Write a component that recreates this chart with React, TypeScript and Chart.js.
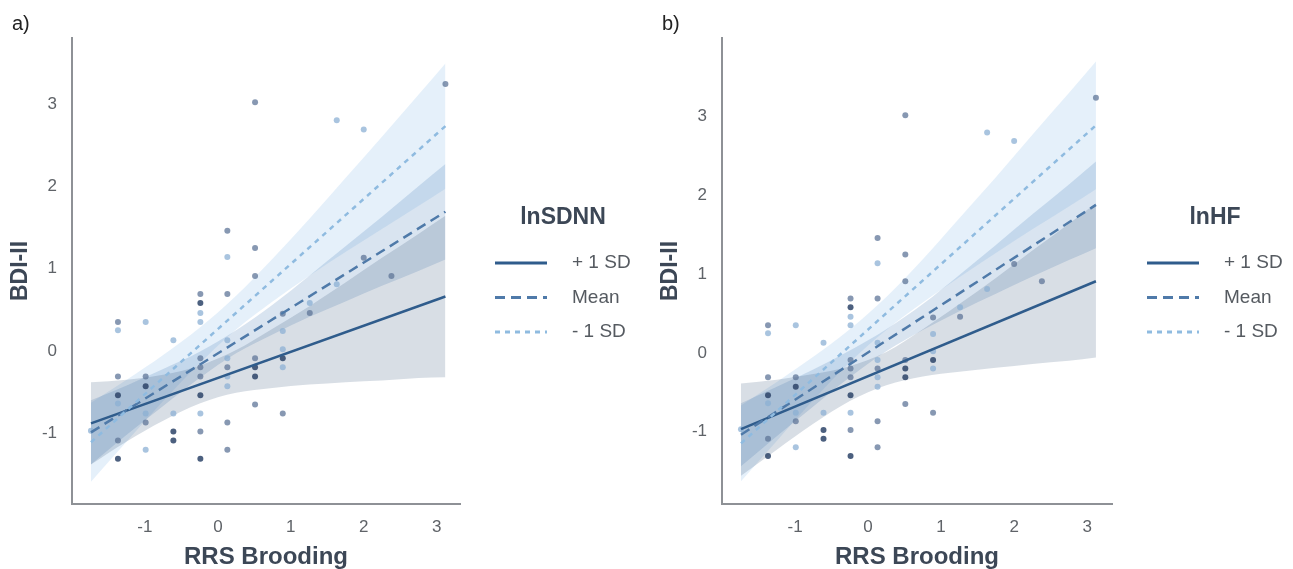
import React, { useEffect, useRef } from 'react';
import { Chart, registerables } from 'chart.js';

Chart.register(...registerables);

const FONT = '"Liberation Sans", Arial, Helvetica, sans-serif';

// ---- axes / text ----
const xTicks = [-1, 0, 1, 2, 3];
const yTicks = [-1, 0, 1, 2, 3];
const xAxisTitle = 'RRS Brooding';
const yAxisTitle = 'BDI-II';
const legendLabels = ['+ 1 SD', 'Mean', '- 1 SD'];
const panelLabels = ['a)', 'b)'];
const moderatorNames = ['lnSDNN', 'lnHF'];

// ---- observed points (RRS Brooding, BDI-II), grouped by shade ----
const darkX = [-1.37, -1.37, -0.99, -0.61, -0.61, -0.24, -0.24, -0.24, 0.51, 0.51, 0.89];
const darkY = [-0.54, -1.31, -0.43, -0.98, -1.09, 0.58, -0.54, -1.31, -0.2, -0.31, -0.09];
const midX = [-1.37, -1.37, -1.37, -0.99, -0.99, -0.24, -0.24, -0.24, -0.24, -0.24, 0.13, 0.13, 0.13, 0.13, 0.13, 0.51, 0.51, 0.51, 0.51, 0.51, 0.89, 0.89, 1.26, 2.0, 2.38, 3.12];
const midY = [0.35, -0.31, -1.09, -0.31, -0.87, 0.69, -0.09, -0.2, -0.31, -0.98, 1.46, 0.69, -0.2, -0.87, -1.2, 3.02, 1.25, 0.91, -0.09, -0.65, 0.45, -0.76, 0.46, 1.13, 0.91, 3.24];
const lightX = [-1.74, -1.37, -1.37, -0.99, -0.99, -0.99, -0.61, -0.61, -0.24, -0.24, -0.24, 0.13, 0.13, 0.13, 0.13, 0.13, 0.89, 0.89, 0.89, 1.26, 1.63, 1.63, 2.0];
const lightY = [-0.97, 0.25, -0.64, 0.35, -0.76, -1.2, 0.13, -0.76, 0.46, 0.35, -0.76, 1.14, 0.13, -0.09, -0.31, -0.43, 0.24, 0.02, -0.2, 0.58, 2.8, 0.81, 2.69];

// ---- fitted simple slopes (x at ends) ----
const lineX = [-1.74, 3.12];
const sdnnHighLine = [-0.88, 0.66];
const sdnnMeanLine = [-0.99, 1.69];
const sdnnLowLine = [-1.11, 2.73];
const hfHighLine = [-0.97, 0.91];
const hfMeanLine = [-1.04, 1.88];
const hfLowLine = [-1.15, 2.89];

// ---- confidence bands ----
const bandX = [-1.74, -1.25, -0.75, -0.25, 0.25, 0.75, 1.25, 1.75, 2.25, 2.75, 3.12];
const sdnnHighUpper = [-0.38, -0.35, -0.29, -0.18, 0.01, 0.27, 0.54, 0.83, 1.13, 1.42, 1.64];
const sdnnHighLower = [-1.38, -1.1, -0.85, -0.64, -0.51, -0.45, -0.41, -0.38, -0.36, -0.33, -0.32];
const sdnnMeanUpper = [-0.6, -0.42, -0.22, -0.01, 0.25, 0.56, 0.91, 1.27, 1.63, 2.0, 2.27];
const sdnnMeanLower = [-1.38, -1.02, -0.67, -0.33, -0.03, 0.2, 0.41, 0.6, 0.79, 0.97, 1.11];
const sdnnLowUpper = [-0.63, -0.35, -0.05, 0.28, 0.67, 1.12, 1.6, 2.1, 2.6, 3.11, 3.49];
const sdnnLowLower = [-1.59, -1.1, -0.61, -0.15, 0.26, 0.6, 0.91, 1.2, 1.48, 1.76, 1.97];
const hfHighUpper = [-0.39, -0.34, -0.27, -0.17, 0.01, 0.3, 0.62, 0.95, 1.3, 1.64, 1.9];
const hfHighLower = [-1.56, -1.23, -0.9, -0.61, -0.41, -0.3, -0.24, -0.19, -0.14, -0.1, -0.06];
const hfMeanUpper = [-0.64, -0.43, -0.21, 0.03, 0.3, 0.62, 0.99, 1.37, 1.76, 2.14, 2.43];
const hfMeanLower = [-1.44, -1.06, -0.68, -0.31, 0.02, 0.29, 0.53, 0.75, 0.97, 1.18, 1.33];
const hfLowUpper = [-0.67, -0.37, -0.05, 0.3, 0.71, 1.19, 1.71, 2.23, 2.77, 3.3, 3.7];
const hfLowLower = [-1.63, -1.12, -0.6, -0.12, 0.29, 0.64, 0.96, 1.27, 1.57, 1.86, 2.08];

// ---- axis ranges ----
const sdnnXRange = [-2.0, 3.32];
const sdnnYRange = [-1.86, 3.8];
const hfXRange = [-2.0, 3.34];
const hfYRange = [-1.92, 4.0];

// ---- styles ----
const HIGH_COLOR = '#2f5c8c';
const MEAN_COLOR = '#4f7aa9';
const LOW_COLOR = '#8fbbe0';
const HIGH_BAND = 'rgba(60, 88, 125, 0.2)';
const MEAN_BAND = 'rgba(80, 132, 188, 0.22)';
const LOW_BAND = 'rgba(150, 196, 236, 0.25)';
const DARK_PT = 'rgba(45, 68, 105, 0.85)';
const MID_PT = 'rgba(95, 118, 152, 0.75)';
const LIGHT_PT = 'rgba(140, 176, 212, 0.75)';
const lineStyles = [
  { color: HIGH_COLOR, dash: [] as number[] },
  { color: MEAN_COLOR, dash: [10, 6] },
  { color: LOW_COLOR, dash: [5, 5] },
];

const CANVAS_H = 569;

function pts(xs: number[], ys: number[]) {
  return xs.map((x, i) => ({ x, y: ys[i] }));
}

const decorPlugin = {
  id: 'decor',
  afterDraw(chart: any, _args: any, opts: any) {
    const { ctx, chartArea } = chart;
    const r = chartArea.right;
    ctx.save();
    ctx.textBaseline = 'middle';
    ctx.font = `20px ${FONT}`;
    ctx.fillStyle = '#222222';
    ctx.textAlign = 'left';
    ctx.fillText(opts.panel, 12, 24);

    ctx.font = `bold 23px ${FONT}`;
    ctx.fillStyle = '#3c4756';
    ctx.textAlign = 'center';
    ctx.fillText(opts.title, r + 103, 218);

    legendLabels.forEach((label, i) => {
      const y = 263 + i * 34.5;
      const st = lineStyles[i];
      ctx.beginPath();
      ctx.setLineDash(st.dash);
      ctx.strokeStyle = st.color;
      ctx.lineWidth = 3;
      ctx.moveTo(r + 35, y);
      ctx.lineTo(r + 87, y);
      ctx.stroke();
      ctx.setLineDash([]);
      ctx.font = `19px ${FONT}`;
      ctx.fillStyle = '#555a60';
      ctx.textAlign = 'left';
      ctx.fillText(label, r + 112, y);
    });
    ctx.restore();
  },
};

type PanelCfg = {
  panel: string;
  title: string;
  xRange: number[];
  yRange: number[];
  lines: number[][];
  bands: number[][][];
  width: number;
  plotRight: number;
};

function buildConfig(cfg: PanelCfg): any {
  const bandColors = [HIGH_BAND, MEAN_BAND, LOW_BAND];
  const datasets: any[] = [];
  // bands: low (-1SD), mean, high (+1SD)
  [2, 1, 0].forEach((k, j) => {
    const [upper, lower] = cfg.bands[k];
    datasets.push({
      type: 'line',
      data: pts(bandX, upper),
      fill: '+1',
      backgroundColor: bandColors[k],
      borderWidth: 0,
      pointRadius: 0,
      cubicInterpolationMode: 'monotone',
      order: 20 - j,
    });
    datasets.push({
      type: 'line',
      data: pts(bandX, lower),
      fill: false,
      borderWidth: 0,
      pointRadius: 0,
      cubicInterpolationMode: 'monotone',
      order: 20 - j,
    });
  });
  const ptSets = [
    [lightX, lightY, LIGHT_PT],
    [midX, midY, MID_PT],
    [darkX, darkY, DARK_PT],
  ] as const;
  ptSets.forEach(([xs, ys, c], j) => {
    datasets.push({
      type: 'line',
      showLine: false,
      data: pts(xs as number[], ys as number[]),
      pointRadius: 3,
      pointBorderWidth: 0,
      pointBackgroundColor: c,
      backgroundColor: c,
      order: 10 - j,
    });
  });
  cfg.lines.forEach((ys, i) => {
    datasets.push({
      type: 'line',
      data: pts(lineX, ys),
      borderColor: lineStyles[i].color,
      borderDash: lineStyles[i].dash,
      borderWidth: 2.5,
      pointRadius: 0,
      fill: false,
      order: 3 - i,
    });
  });

  return {
    type: 'line',
    data: { datasets },
    options: {
      animation: false,
      responsive: false,
      devicePixelRatio: 1,
      events: [],
      layout: { padding: { left: 0, top: 38, right: cfg.width - cfg.plotRight, bottom: 0 } },
      plugins: {
        legend: { display: false },
        tooltip: { enabled: false },
        decor: { panel: cfg.panel, title: cfg.title },
      },
      scales: {
        x: {
          type: 'linear',
          min: cfg.xRange[0],
          max: cfg.xRange[1],
          afterFit: (s: any) => { s.height = CANVAS_H - 504; },
          afterBuildTicks: (s: any) => { s.ticks = xTicks.map((v) => ({ value: v })); },
          grid: { display: false, drawTicks: false },
          border: { display: true, color: '#8e9196', width: 2 },
          ticks: { padding: 13, color: '#5f6368', font: { family: FONT, size: 17 }, maxRotation: 0 },
          title: {
            display: true,
            text: xAxisTitle,
            color: '#3c4756',
            font: { family: FONT, size: 24, weight: 'bold', lineHeight: 1 },
            padding: { top: 0, bottom: 0 },
          },
        },
        y: {
          type: 'linear',
          min: cfg.yRange[0],
          max: cfg.yRange[1],
          afterFit: (s: any) => { s.width = 72; },
          afterBuildTicks: (s: any) => { s.ticks = yTicks.map((v) => ({ value: v })); },
          grid: { display: false, drawTicks: false },
          border: { display: true, color: '#8e9196', width: 2 },
          ticks: { padding: 15, color: '#5f6368', font: { family: FONT, size: 17 } },
          title: {
            display: true,
            text: yAxisTitle,
            color: '#3c4756',
            font: { family: FONT, size: 23, weight: 'bold', lineHeight: 1 },
            padding: { top: 9, bottom: 0 },
          },
        },
      },
    },
    plugins: [decorPlugin],
  };
}

function Panel({ cfg, left }: { cfg: PanelCfg; left: number }) {
  const ref = useRef<HTMLCanvasElement>(null);
  useEffect(() => {
    const chart = new Chart(ref.current as HTMLCanvasElement, buildConfig(cfg));
    return () => chart.destroy();
  }, []);
  return (
    <div style={{ position: 'absolute', left, top: 0, width: cfg.width, height: CANVAS_H }}>
      <canvas ref={ref} width={cfg.width} height={CANVAS_H} style={{ display: 'block', width: cfg.width, height: CANVAS_H }} />
    </div>
  );
}

const sdnnCfg: PanelCfg = {
  panel: panelLabels[0],
  title: moderatorNames[0],
  xRange: sdnnXRange,
  yRange: sdnnYRange,
  lines: [sdnnHighLine, sdnnMeanLine, sdnnLowLine],
  bands: [
    [sdnnHighUpper, sdnnHighLower],
    [sdnnMeanUpper, sdnnMeanLower],
    [sdnnLowUpper, sdnnLowLower],
  ],
  width: 646,
  plotRight: 460,
};

const hfCfg: PanelCfg = {
  panel: panelLabels[1],
  title: moderatorNames[1],
  xRange: hfXRange,
  yRange: hfYRange,
  lines: [hfHighLine, hfMeanLine, hfLowLine],
  bands: [
    [hfHighUpper, hfHighLower],
    [hfMeanUpper, hfMeanLower],
    [hfLowUpper, hfLowLower],
  ],
  width: 643,
  plotRight: 462,
};

export default function App() {
  return (
    <div style={{ position: 'absolute', left: 0, top: 0, width: 1293, height: CANVAS_H, background: '#ffffff', overflow: 'hidden' }}>
      <Panel cfg={sdnnCfg} left={0} />
      <Panel cfg={hfCfg} left={650} />
    </div>
  );
}
